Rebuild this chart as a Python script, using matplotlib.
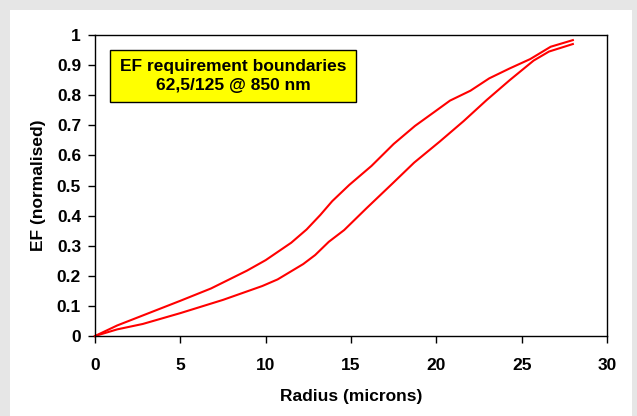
import matplotlib.pyplot as plt
from matplotlib.patches import Rectangle

# upper boundary
upper_r = [0, 1.3, 5.0, 6.8, 8.9, 10.0, 11.5, 12.4, 13.2, 13.9, 14.9, 16.2, 17.5, 18.75,
           19.9, 20.8, 22.0, 23.1, 24.3, 25.5, 26.7, 28.0]
upper_ef = [0, 0.035, 0.117, 0.158, 0.217, 0.252, 0.310, 0.354, 0.402, 0.448, 0.502,
            0.565, 0.638, 0.698, 0.745, 0.782, 0.815, 0.856, 0.889, 0.920, 0.961, 0.983]

# lower boundary
lower_r = [0, 1.3, 2.8, 5.0, 7.5, 9.8, 10.7, 12.2, 12.9, 13.7, 14.6, 15.9, 17.4, 18.7,
           20.2, 21.6, 22.95, 24.3, 25.7, 26.6, 28.0]
lower_ef = [0, 0.022, 0.040, 0.076, 0.120, 0.166, 0.188, 0.239, 0.269, 0.313, 0.352,
            0.424, 0.505, 0.576, 0.646, 0.714, 0.784, 0.850, 0.915, 0.945, 0.970]

x_ticks = [0, 5, 10, 15, 20, 25, 30]
y_ticks = [0, 0.1, 0.2, 0.3, 0.4, 0.5, 0.6, 0.7, 0.8, 0.9, 1]
y_tick_labels = ['0', '0.1', '0.2', '0.3', '0.4', '0.5', '0.6', '0.7', '0.8', '0.9', '1']

plt.rcParams['font.family'] = ['Liberation Sans', 'DejaVu Sans']
plt.rcParams['font.weight'] = 'bold'

W, H = 637, 416
fig = plt.figure(figsize=(W / 100, H / 100), dpi=100)
fig.patch.set_facecolor('#e6e6e6')
fig.patches.append(Rectangle((10 / W, 0), 622 / W, (H - 10) / H, transform=fig.transFigure,
                             facecolor='white', edgecolor='none', zorder=-10))

ax = fig.add_axes([95 / W, (H - 336) / H, 512 / W, 301 / H])
ax.plot(upper_r, upper_ef, color='#ff0000', lw=1.5, clip_on=False)
ax.plot(lower_r, lower_ef, color='#ff0000', lw=1.5, clip_on=False)

ax.set_xlim(0, 30)
ax.set_ylim(0, 1)
ax.set_xticks(x_ticks)
ax.set_yticks(y_ticks)
ax.set_yticklabels(y_tick_labels)
ax.tick_params(direction='out', length=5, width=1, labelsize=12.5)
ax.tick_params(axis='x', pad=11)
ax.tick_params(axis='y', pad=5)
for lab in ax.get_xticklabels() + ax.get_yticklabels():
    lab.set_fontweight('bold')
for s in ax.spines.values():
    s.set_linewidth(1)
    s.set_color('black')

ax.set_xlabel('Radius (microns)', fontsize=12.5, fontweight='bold', labelpad=11)
ax.set_ylabel('EF (normalised)', fontsize=12.5, fontweight='bold', labelpad=8)

# yellow title box
ax.add_patch(Rectangle((0.0293, 0.777), 0.4805, 0.173, transform=ax.transAxes,
                       facecolor='#ffff00', edgecolor='black', lw=1, zorder=3))
ax.text(0.2695, 0.864, 'EF requirement boundaries\n62,5/125 @ 850 nm', transform=ax.transAxes,
        ha='center', va='center', multialignment='center', fontsize=12.5,
        fontweight='bold', linespacing=1.3, zorder=4)

fig.savefig('out.png', dpi=100, facecolor=fig.get_facecolor())
